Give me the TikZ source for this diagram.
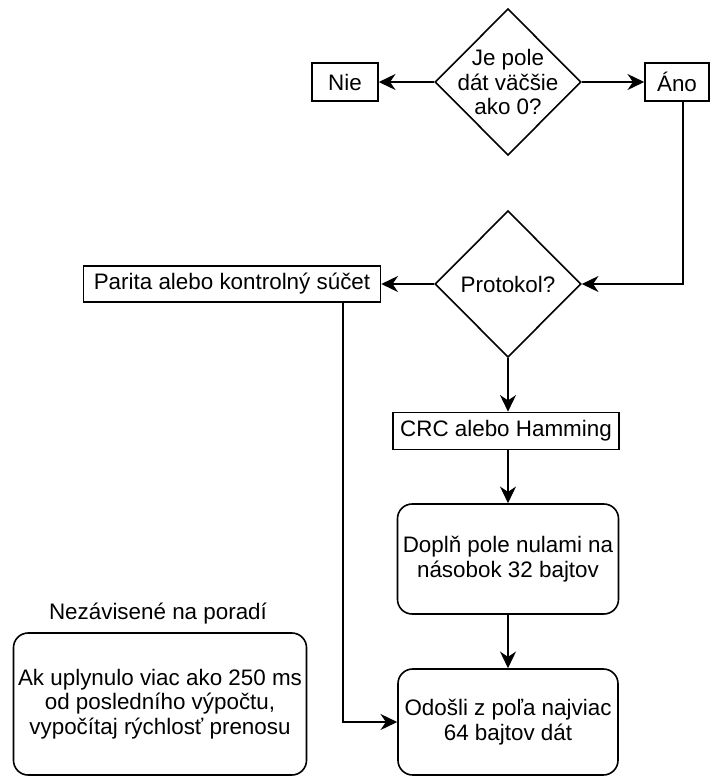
\documentclass[tikz,border=0pt]{standalone}
\usepackage{fontspec}
\setmainfont{Liberation Sans}
\usetikzlibrary{shapes.geometric,arrows.meta}

\begin{document}
\begin{tikzpicture}[x=0.75pt, y=-0.75pt,
        every node/.style={font=\fontsize{16.8}{18.4}\selectfont, align=center},
        box/.style={draw, line width=1.2pt, inner sep=0pt},
        roundbox/.style={box, rounded corners=11pt},
        decision/.style={draw, line width=1.2pt, diamond, aspect=1, inner sep=-4pt,
            minimum width=109.5pt, minimum height=110pt},
        arr/.style={line width=1.2pt, -{Stealth[length=12.5pt, width=12pt, inset=4pt]}}]
            \useasboundingbox (0,0) rectangle (710,776);

            \node[decision] (jepole) at (508, 82) {Je pole\\dát väčšie\\ako 0?};
            \node[box, minimum width=49.5pt, minimum height=28.5pt] (nie) at (345, 82) {Nie};
            \node[box, minimum width=48pt, minimum height=28.5pt] (ano) at (677, 82) {Áno};

            \node[decision] (protokol) at (508, 284) {Protokol?};
            \node[box, minimum width=222.75pt, minimum height=27pt] (parita) at (232, 284) {Parita alebo kontrolný súčet};
            \node[box, minimum width=169.5pt, minimum height=27.75pt] (crc) at (506, 431) {CRC alebo Hamming};

            \node[roundbox, minimum width=165.75pt, minimum height=82.5pt] (doplnenie) at (508, 559) {Doplň pole nulami na\\násobok 32 bajtov};
            \node[roundbox, minimum width=165pt, minimum height=79.5pt] (odoslanie) at (508, 722) {Odošli z poľa najviac\\64 bajtov dát};

            \node (nezavisle) at (158, 614) {Nezávisené na poradí};
            \node[roundbox, minimum width=219.75pt, minimum height=106.5pt] (rychlost) at (160, 704) {Ak uplynulo viac ako 250 ms\\od posledního výpočtu,\\vypočítaj rýchlosť prenosu};

            \coordinate (anodole) at (683, 101);
            \coordinate (paritadole) at (343, 302);

            \draw[arr] (jepole.west) -- (nie.east);
            \draw[arr] (jepole.east) -- (ano.west);
            \draw[arr] (anodole) |- (protokol.east);
            \draw[arr] (protokol.west) -- (parita.east);
            \draw[arr] (protokol.south) -- (protokol.south |- crc.north);
            \draw[arr] (doplnenie.north |- crc.south) -- (doplnenie.north);
            \draw[arr] (doplnenie.south) -- (odoslanie.north);
            \draw[arr] (paritadole) |- (odoslanie.west);
        \end{tikzpicture}
\end{document}
